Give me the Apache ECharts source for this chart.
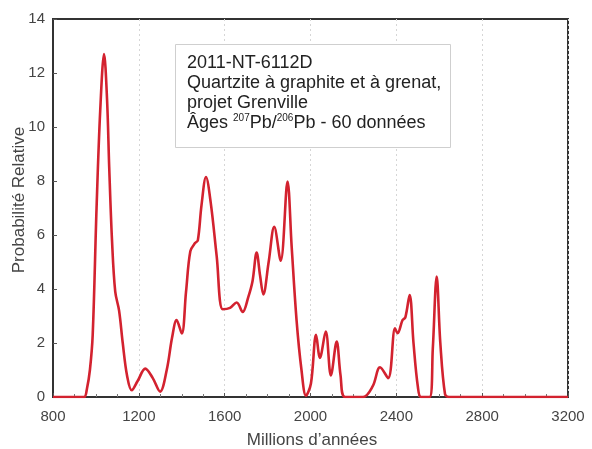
<!DOCTYPE html>
<html>
<head>
<meta charset="utf-8">
<script src="https://cdn.jsdelivr.net/npm/echarts@6/dist/echarts.min.js"></script>
<style>
html, body { margin: 0; padding: 0; background: #fff; }
#chart { width: 592px; height: 449px; }
</style>
</head>
<body>
<div id="chart"></div>
<script>
// Relative probability density of 207Pb/206Pb ages (Ma)
const ages = [800, 900, 945, 958, 972, 985, 1003, 1020, 1038, 1052, 1062, 1075, 1090, 1108, 1125, 1145, 1167, 1195, 1230, 1265, 1299, 1330, 1355, 1376, 1400, 1420, 1440, 1462, 1475, 1492, 1513, 1535, 1563, 1591, 1625, 1656, 1684, 1710, 1730, 1749, 1765, 1780, 1805, 1831, 1861, 1893, 1912, 1935, 1958, 1979, 2002, 2026, 2044, 2071, 2095, 2122, 2140, 2161, 2245, 2290, 2324, 2362, 2394, 2406, 2429, 2442, 2462, 2480, 2500, 2515, 2555, 2570, 2588, 2605, 2627, 2645, 3200];
const probability = [0, 0, 0, 0.3, 1.0, 2.3, 7.0, 10.6, 12.7, 11.0, 8.5, 5.8, 3.9, 3.2, 2.0, 0.8, 0.25, 0.6, 1.05, 0.7, 0.2, 1.0, 2.2, 2.85, 2.35, 3.9, 5.4, 5.7, 5.8, 7.1, 8.15, 7.2, 5.2, 3.25, 3.3, 3.5, 3.15, 3.7, 4.3, 5.35, 4.5, 3.8, 5.0, 6.3, 5.05, 7.98, 5.6, 2.85, 1.0, 0.05, 0.5, 2.3, 1.45, 2.42, 0.8, 2.05, 0.8, 0, 0, 0.4, 1.1, 0.7, 2.54, 2.36, 2.85, 2.95, 3.78, 2.0, 0.4, 0, 0, 1.8, 4.46, 2.0, 0.1, 0, 0];

const xMin = 800, xMax = 3200, xStep = 400;
const yMin = 0, yMax = 14, yStep = 2;

const xTitle = 'Millions d\u2019années';
const yTitle = 'Probabilité Relative';
const infoLines = [
  '2011-NT-6112D',
  'Quartzite à graphite et à grenat,',
  'projet Grenville'
];
const isotopeLine = ['Âges ', '207', 'Pb/', '206', 'Pb - 60 données'];

const chart = echarts.init(document.getElementById('chart'));

const textColor = '#444';
const fontFamily = '"Liberation Sans", Arial, sans-serif';

chart.setOption({
  animation: false,
  backgroundColor: '#fff',
  grid: {
    left: 53, right: 24, top: 19, bottom: 52,
    show: true, borderColor: '#333', borderWidth: 2, backgroundColor: 'transparent'
  },
  xAxis: {
    type: 'value',
    min: xMin, max: xMax, interval: xStep,
    axisLine: { show: true, lineStyle: { color: '#333', width: 2 } },
    axisTick: { show: true, inside: true, length: 4, lineStyle: { color: '#555' } },
    minorTick: { show: true, splitNumber: 4, length: 3, lineStyle: { color: '#777' } },
    axisLabel: { color: textColor, fontSize: 15, fontFamily: fontFamily, margin: 12, formatter: v => String(v) },
    splitLine: { show: true, lineStyle: { color: '#d6d6d6', type: [2, 3], width: 1 } }
  },
  yAxis: {
    type: 'value',
    min: yMin, max: yMax, interval: yStep,
    axisLine: { show: true, lineStyle: { color: '#333', width: 2 } },
    axisTick: { show: true, inside: true, length: 4, lineStyle: { color: '#555' } },
    axisLabel: { color: textColor, fontSize: 15, fontFamily: fontFamily, margin: 8 },
    splitLine: { show: false }
  },
  series: [{
    type: 'line',
    data: ages.map((a, i) => [a, probability[i]]),
    smooth: 0.35,
    showSymbol: false,
    lineStyle: { color: '#d3222f', width: 2.6 },
    z: 5
  }],
  graphic: [
    {
      type: 'text',
      x: 19, y: 200,
      rotation: Math.PI / 2,
      style: {
        text: yTitle,
        x: 0, y: 0,
        fill: textColor, fontSize: 17, fontFamily: fontFamily,
        align: 'center', verticalAlign: 'middle'
      }
    },
    {
      type: 'text',
      style: {
        text: xTitle,
        x: 312, y: 440,
        fill: textColor, fontSize: 17, fontFamily: fontFamily,
        align: 'center', verticalAlign: 'middle'
      }
    },
    {
      type: 'rect',
      shape: { x: 175.5, y: 44.5, width: 275, height: 103 },
      style: { fill: '#fff', stroke: '#cfcfcf', lineWidth: 1 },
      z: 10
    },
    {
      type: 'text',
      z: 11,
      style: {
        text: infoLines.join('\n') + '\n' +
          '{a|' + isotopeLine[0] + '}{s|' + isotopeLine[1] + '}{a|' + isotopeLine[2] + '}{s|' + isotopeLine[3] + '}{a|' + isotopeLine[4] + '}',
        x: 187, y: 53,
        fill: '#222', fontSize: 18, fontFamily: fontFamily,
        lineHeight: 20,
        rich: {
          a: { fontSize: 18, fontFamily: fontFamily, fill: '#222', lineHeight: 20 },
          s: { fontSize: 10, fontFamily: fontFamily, fill: '#222', verticalAlign: 'top', lineHeight: 20, padding: [0, 0, 6, 0] }
        }
      }
    }
  ]
});
</script>
</body>
</html>
